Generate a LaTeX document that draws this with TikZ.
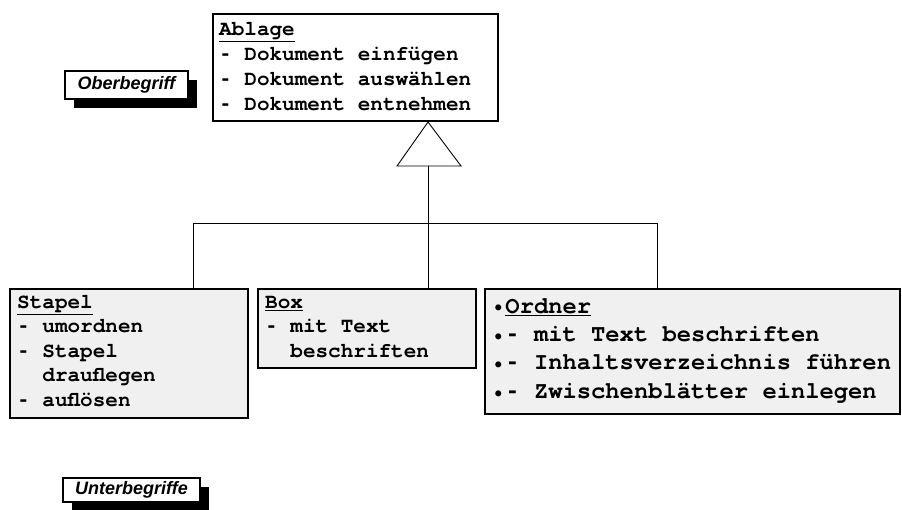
\documentclass[tikz,border=0pt]{standalone}
\usepackage{fontspec}
\usetikzlibrary{shadows}
\newfontfamily\classfont{TeX Gyre Cursor}
\newfontfamily\dashfont{Liberation Mono}
\newfontfamily\tagfont{Liberation Sans}
\definecolor{boxgray}{HTML}{F0F0F0}
% short hyphen and small bullet, each one monospace cell wide
\newcommand\itemdash{\makebox[0.6em][c]{\dashfont\bfseries -}}
\newcommand\itemdot{\makebox[0.6em][c]{\raisebox{0.05em}{\scalebox{0.7}{•}}}}
\begin{document}
\begin{tikzpicture}[x=1pt,y=-1pt,
  classbox/.style={draw=black, line width=2pt, fill=white, inner sep=0pt, anchor=north west},
  subbox/.style={classbox, fill=boxgray},
  txt/.style={anchor=base west, inner sep=0pt, font=\classfont\bfseries\fontsize{21}{25}\selectfont},
  bigtxt/.style={txt, font=\classfont\bfseries\fontsize{23.8}{28}\selectfont},
  link/.style={line width=0.9pt},
  tagbox/.style={draw=black, line width=1.6pt, fill=white, inner sep=0pt,
    font=\tagfont\bfseries\itshape\fontsize{18}{20}\selectfont,
    drop shadow={shadow xshift=9pt, shadow yshift=-9pt, opacity=1, fill=black, draw=none}}
]
\useasboundingbox (0,0) rectangle (902,509);

% superclass
\node[classbox, minimum width=285pt, minimum height=107pt] (ablage) at (212,13) {};
\node[txt] (ab1) at (219,35) {\underline{Ablage}};
\node[txt] (ab2) at (219,60) {\itemdash{} Dokument einfügen};
\node[txt] (ab3) at (219,85) {\itemdash{} Dokument auswählen};
\node[txt] (ab4) at (219,110) {\itemdash{} Dokument entnehmen};

% subclasses
\node[subbox, minimum width=238pt, minimum height=129pt] (stapel) at (9,288) {};
\node[txt] (st1) at (17,308) {\underline{Stapel}};
\node[txt] (st2) at (17,332.6) {\itemdash{} umordnen};
\node[txt] (st3) at (17,357.2) {\itemdash{} Stapel};
\node[txt] (st4) at (17,381.8) {\ \ drauflegen};
\node[txt] (st5) at (17,406.4) {\itemdash{} auflösen};

\node[subbox, minimum width=218pt, minimum height=79pt] (box) at (257,288) {};
\node[txt] (bx1) at (265,308) {\underline{Box}};
\node[txt] (bx2) at (265,332.6) {\itemdash{} mit Text};
\node[txt] (bx3) at (265,357.2) {\ \ beschriften};

\node[subbox, minimum width=415pt, minimum height=125pt] (ordner) at (484,288) {};
\node[bigtxt] (or1) at (491,313) {\itemdot\underline{Ordner}};
\node[bigtxt] (or2) at (491,341.4) {\itemdot\itemdash{} mit Text beschriften};
\node[bigtxt] (or3) at (491,369.8) {\itemdot\itemdash{} Inhaltsverzeichnis führen};
\node[bigtxt] (or4) at (491,398.2) {\itemdot\itemdash{} Zwischenblätter einlegen};

% generalisation: open triangle and branching lines
\coordinate (apex) at (ablage.south -| 428,0);
\coordinate (tribase) at (428,166);
\coordinate (fork) at (428,223);
\draw[link] (apex) -- (397,166) -- (461,166) -- cycle;
\draw[link] (tribase) -- (tribase |- box.north);
\draw[link] (fork -| 193,0) -- (fork -| 657,0);
\draw[link] (fork -| 193,0) -- (stapel.north -| 193,0);
\draw[link] (fork -| 657,0) -- (ordner.north -| 657,0);

% tags
\node[tagbox, minimum width=123pt, minimum height=28pt] (ober) at (126.5,85) {Oberbegriff};
\node[tagbox, minimum width=137pt, minimum height=24pt] (unter) at (131.5,490) {Unterbegriffe};
\end{tikzpicture}
\end{document}
